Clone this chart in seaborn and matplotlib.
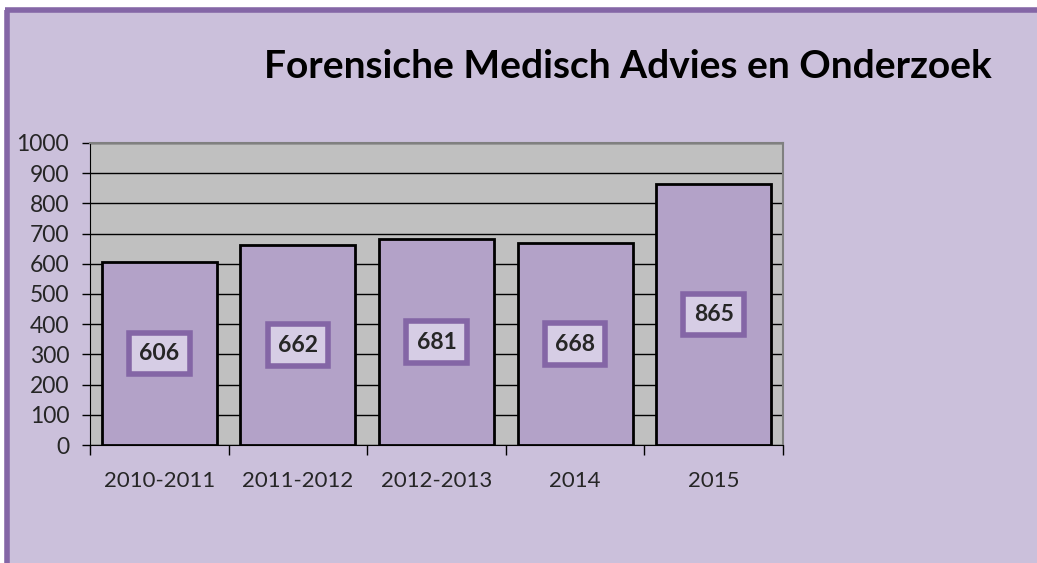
import matplotlib
matplotlib.use("Agg")
import matplotlib.pyplot as plt
import seaborn as sns
import pandas as pd
from matplotlib.patches import Rectangle
from matplotlib.lines import Line2D

# Gegevens
periodes = ["2010-2011", "2011-2012", "2012-2013", "2014", "2015"]
aantallen = [606, 662, 681, 668, 865]
titel = "Forensiche Medisch Advies en Onderzoek"

df = pd.DataFrame({"periode": periodes, "aantal": aantallen})

sns.set_style("white")
plt.rcParams["font.family"] = ["Lato", "DejaVu Sans"]

W, H = 1037, 563
fig = plt.figure(figsize=(W / 100, H / 100), dpi=100)
fig.patch.set_facecolor("#cbc0db")
fig.patch.set_edgecolor("none")

# witte marge links en boven, paarse rand
x0, y0 = 7 / W, 1 - 10 / H
fig.patches.append(Rectangle((0, y0), 1, 1 - y0, transform=fig.transFigure,
                             facecolor="white", edgecolor="none", zorder=-5))
fig.patches.append(Rectangle((0, 0), x0, 1, transform=fig.transFigure,
                             facecolor="white", edgecolor="none", zorder=-5))
fig.lines.append(Line2D([x0, x0], [0, y0], transform=fig.transFigure,
                        color="#8466a6", linewidth=4, solid_capstyle="butt"))
fig.lines.append(Line2D([x0 - 2 / W, 1.01], [y0, y0], transform=fig.transFigure,
                        color="#8466a6", linewidth=4, solid_capstyle="butt"))

ax = fig.add_axes([90 / W, 1 - 445 / H, (783 - 90) / W, (445 - 143) / H])
ax.set_facecolor("#c0c0c0")

sns.barplot(data=df, x="periode", y="aantal", color="#b3a2c8", width=0.83,
            edgecolor="black", linewidth=2, saturation=1, ax=ax, zorder=3)

ax.set_ylim(0, 1000)
ax.set_yticks(range(0, 1001, 100))
ax.set_xlim(-0.5, len(periodes) - 0.5)
ax.yaxis.grid(True, color="black", linewidth=1, zorder=0)
ax.set_axisbelow(True)

for s in ["top", "right"]:
    ax.spines[s].set_color("#808080")
    ax.spines[s].set_linewidth(1.5)
ax.spines["left"].set_color("black")
ax.spines["bottom"].set_color("black")

ax.set_xlabel("")
ax.set_ylabel("")
ax.tick_params(axis="y", labelsize=16.5, length=6, width=1, color="black", left=True, pad=9)
ax.tick_params(axis="x", labelsize=16, length=0, pad=19)
ax.set_xticks(range(len(periodes)), minor=False)
ax.set_xticks([i - 0.5 for i in range(len(periodes) + 1)], minor=True)
ax.tick_params(axis="x", which="minor", length=7, width=1, color="black", bottom=True)

# Waardelabels in het midden van de staaf
for i, v in enumerate(aantallen):
    ax.text(i, v / 2, str(v), ha="center", va="center", fontsize=16.5, fontweight="bold",
            zorder=5,
            bbox=dict(boxstyle="square,pad=0.45", facecolor="#d6cde5", edgecolor="#8466a6",
                      linewidth=4))

fig.text(628 / W, 1 - 67 / H, titel, ha="center", va="center", fontsize=28,
         fontweight="bold", color="black")

fig.savefig("out.png", dpi=100, facecolor=fig.get_facecolor())
